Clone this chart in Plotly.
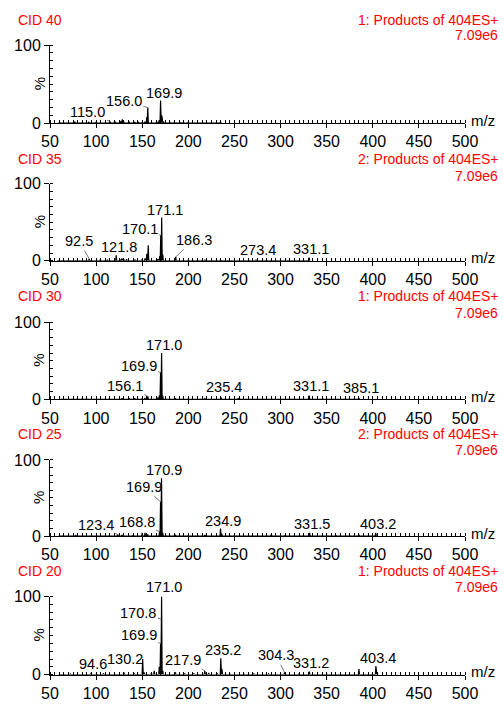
import plotly.graph_objects as go
from plotly.subplots import make_subplots

# peak lists (m/z, relative intensity %)
cid40_mz = [60, 66, 77, 85, 92, 100, 108, 115.0, 121, 127, 128.5, 130, 136, 142, 146, 150, 153,
            155, 156.0, 167, 168.5, 169.9, 171.2, 173, 180, 185, 192, 200, 210, 220, 228, 235]
cid40_int = [0.8, 0.6, 2, 0.8, 1, 1, 0.8, 2, 1, 3, 5, 2, 1, 1.5, 1, 1, 2,
             8, 20, 1.5, 4, 29, 10, 2, 1, 1, 0.8, 1, 0.8, 0.8, 0.8, 1.5]
cid40_labels = [115.0, 156.0, 169.9]

cid35_mz = [58, 70, 80, 92.5, 104, 112, 121.8, 127, 128, 130, 133, 142, 150, 153, 155, 156.5,
            167, 169, 170.1, 171.1, 172.3, 186.3, 200, 215, 218, 235, 255, 273.4, 290, 331.1]
cid35_int = [0.6, 0.8, 0.8, 2.5, 0.8, 1, 7, 2, 3, 2, 2, 1.5, 2, 3, 9, 20,
             2, 6, 33, 56, 8, 5, 1, 1, 1, 1, 0.6, 1, 0.5, 4]
cid35_labels = [92.5, 121.8, 170.1, 171.1, 186.3, 273.4, 331.1]

cid30_mz = [62, 85, 100, 115, 128, 136, 142, 150, 153, 156.1, 167, 168.5, 169.9, 171.0, 172.2,
            186, 200, 218, 235.4, 254, 290, 331.1, 385.1]
cid30_int = [0.6, 0.8, 0.6, 0.8, 1.5, 0.8, 1, 1.5, 2, 4, 1.5, 5, 35, 60, 5,
             1.5, 0.8, 1, 2.5, 1, 0.6, 5, 1.5]
cid30_labels = [156.1, 169.9, 171.0, 235.4, 331.1, 385.1]

cid25_mz = [60, 78, 100, 112, 123.4, 128, 140, 150, 153, 156, 168.8, 169.9, 170.9, 172.2, 186,
            200, 218, 234.9, 236.2, 260, 290, 305, 331.5, 360, 385, 403.2]
cid25_int = [0.6, 0.8, 0.5, 0.8, 2, 1.5, 1, 4, 4, 2, 6, 45, 76, 4, 1.5,
             1, 1.5, 10, 3, 0.8, 2, 1.5, 4, 0.8, 1.5, 4]
cid25_labels = [123.4, 168.8, 169.9, 170.9, 234.9, 331.5, 403.2]

cid20_mz = [60, 72, 94.6, 108, 120, 130.2, 141, 150.5, 152, 160, 163, 168.5, 169.9, 170.8,
            171.0, 172.3, 186, 196, 206, 217.9, 222, 231, 235.2, 236.5, 245, 260, 271, 287,
            304.3, 320, 331.2, 350, 385, 403.4, 405]
cid20_int = [0.5, 0.8, 2, 1, 1, 3, 2, 20, 3, 2, 5, 10, 40, 71,
             100, 5, 3, 1.5, 1.5, 5, 2, 2, 21, 7, 1, 1, 1, 1,
             3, 1, 4, 1, 7, 11, 2]
cid20_labels = [94.6, 130.2, 169.9, 170.8, 171.0, 217.9, 235.2, 304.3, 331.2, 403.4]

cid_names = ["CID 40", "CID 35", "CID 30", "CID 25", "CID 20"]
func_names = ["1: Products of 404ES+", "2: Products of 404ES+", "1: Products of 404ES+",
              "2: Products of 404ES+", "1: Products of 404ES+"]
scan_max = "7.09e6"

spectra = [(cid40_mz, cid40_int, cid40_labels), (cid35_mz, cid35_int, cid35_labels),
           (cid30_mz, cid30_int, cid30_labels), (cid25_mz, cid25_int, cid25_labels),
           (cid20_mz, cid20_int, cid20_labels)]

# label placement: text centre offset from peak top in px, and whether a leader line is drawn
label_pos = [
    {115.0: (-22, -10, True), 156.0: (-24, -7, True), 169.9: (3, -8, False)},
    {92.5: (-10, -18, True), 121.8: (3, -8, False), 170.1: (-21, -6, True),
     171.1: (3, -8, False), 186.3: (18, -17, True), 273.4: (2, -10, False), 331.1: (2, -9, False)},
    {156.1: (-23, -10, True), 169.9: (-22, -6, True), 171.0: (2.5, -8.5, False),
     235.4: (3, -10, False), 331.1: (2, -10, False), 385.1: (2, -10, False)},
    {123.4: (-22, -10, True), 168.8: (-23, -9, True), 169.9: (-17, -15, True),
     170.9: (2.5, -8, False), 234.9: (2, -7, False), 331.5: (2, -9, False), 403.2: (2.5, -9, False)},
    {94.6: (2, -9, False), 130.2: (1, -13, False), 169.9: (-22, -8, True), 170.8: (-23, -6, True),
     171.0: (2.5, -10, False), 217.9: (-22, -11, True), 235.2: (2.5, -8, False),
     304.3: (-8.5, -17, True), 331.2: (2, -9, False), 403.4: (2.5, -8.5, False)},
]

# layout in reference pixels; vertical positions are turned into fractions of the page height
W, H = 503, 709
ML, MR = 50, 38
PW = W - ML - MR
zero_px = [118, 259, 401, 541, 683]
full_px = [38, 180, 322, 463, 603]
title_px = [12, 155, 295, 436, 577]
sub_px = [28, 172, 312, 453, 593]


def py(y):
    return (H - y) / H


def px(x):
    return (x - ML) / PW


def profile(mz, inten, w=0.6):
    xs, ys = [], []
    for m, h in sorted(zip(mz, inten)):
        xs += [m - w, m, m + w]
        ys += [0, h, 0]
    return xs, ys


fig = make_subplots(rows=5, cols=1)
FONT = "Liberation Sans, Arial, sans-serif"
RED = "#ff0000"
annots = []

for i, (mz, inten, labels) in enumerate(spectra):
    r = i + 1
    xs, ys = profile(mz, inten)
    fig.add_trace(go.Scatter(x=xs, y=ys, mode="lines", line=dict(color="black", width=1.2),
                             hoverinfo="skip", showlegend=False, cliponaxis=False), row=r, col=1)
    sfx = "" if r == 1 else str(r)
    fig.layout["yaxis" + sfx].domain = [py(zero_px[i]), py(full_px[i])]
    fig.layout["xaxis" + sfx].domain = [0, 1]
    yref = "y" + sfx
    xref = "x" + sfx
    for m in labels:
        h = inten[mz.index(m)]
        dx, dy, lead = label_pos[i][m]
        a = dict(x=m, y=h, xref=xref, yref=yref, text=f"{m:.1f}",
                 font=dict(size=14.5, color="black", family=FONT))
        if lead:
            a.update(showarrow=True, ax=dx, ay=dy, arrowhead=0, arrowwidth=0.8,
                     arrowcolor="#555555", standoff=0)
        else:
            a.update(showarrow=False, xshift=dx, yshift=-dy, xanchor="center", yanchor="middle")
        annots.append(a)
    annots.append(dict(x=px(16), y=py(title_px[i]), xref="paper", yref="paper", text=cid_names[i],
                       showarrow=False, xanchor="left", yanchor="middle",
                       font=dict(size=14, color=RED, family=FONT)))
    annots.append(dict(x=px(500), y=py(title_px[i]), xref="paper", yref="paper", text=func_names[i],
                       showarrow=False, xanchor="right", yanchor="middle",
                       font=dict(size=14, color=RED, family=FONT)))
    annots.append(dict(x=px(500), y=py(sub_px[i]), xref="paper", yref="paper", text=scan_max,
                       showarrow=False, xanchor="right", yanchor="middle",
                       font=dict(size=14, color=RED, family=FONT)))
    annots.append(dict(x=px(483), y=0, xref="paper", yref=yref, text="m/z", showarrow=False,
                       xanchor="center", yanchor="middle", yshift=3,
                       font=dict(size=15, color="black", family=FONT)))
    annots.append(dict(x=px(39), y=50, xref="paper", yref=yref, text="%", showarrow=False,
                       textangle=-90, xanchor="center", yanchor="middle",
                       font=dict(size=15, color="black", family=FONT)))

fig.update_xaxes(range=[50, 500], tickvals=list(range(50, 501, 50)), ticks="outside", ticklen=4,
                 tickcolor="black", minor=dict(dtick=5, tick0=50, ticks="inside", ticklen=3,
                                               tickcolor="black"),
                 showline=True, linecolor="black", linewidth=1, showgrid=False, zeroline=False,
                 tickfont=dict(size=16, color="black", family=FONT))
fig.update_yaxes(range=[0, 100], tickvals=[0, 100], ticks="outside", ticklen=5, tickcolor="black",
                 minor=dict(dtick=10, tick0=0, ticks="inside", ticklen=3, tickcolor="black"),
                 showline=True, linecolor="black", linewidth=1, showgrid=False, zeroline=False,
                 tickfont=dict(size=16, color="black", family=FONT))

fig.update_layout(margin=dict(l=ML, r=MR, t=0, b=0), paper_bgcolor="white",
                  plot_bgcolor="white", annotations=annots, showlegend=False)

# fixed-size div pinned to the page corner so the body margin doesn't push it
fig.write_html("out.html", config={"displayModeBar": False}, default_width=f"{W}px",
               default_height=f"{H}px; position:absolute; left:0; top:0")
